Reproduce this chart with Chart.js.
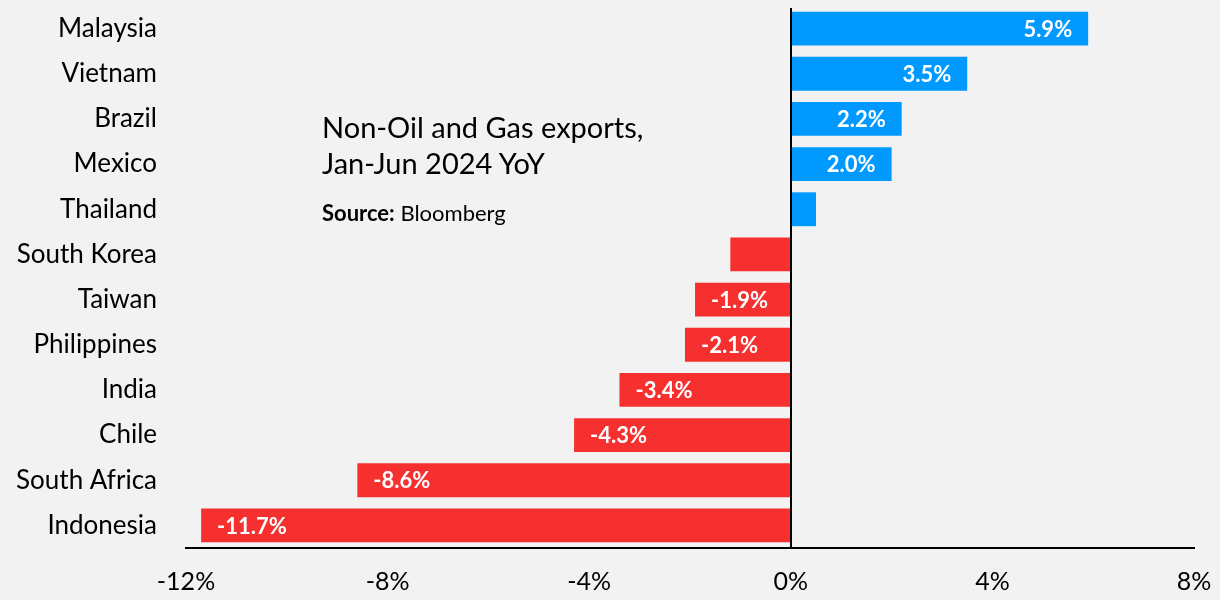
<!DOCTYPE html>
<html>
<head>
<meta charset="utf-8">
<script src="https://cdn.jsdelivr.net/npm/chart.js@4/dist/chart.umd.min.js"></script>
<style>
  body { margin: 0; background: #f2f2f2; }
  #wrap { position: relative; width: 1220px; height: 600px; }
  #note { position: absolute; left: 322px; top: 109px; font-family: Lato, sans-serif; color: #000; }
  #note .t { font-size: 29px; line-height: 36px; }
  #note .s { font-size: 22px; line-height: 26px; margin-top: 19px; }
</style>
</head>
<body>
<div id="wrap">
  <canvas id="mycanvas"></canvas>
  <div id="note">
    <div class="t">Non-Oil and Gas exports,<br>Jan-Jun 2024 YoY</div>
    <div class="s"><b>Source:</b> Bloomberg</div>
  </div>
</div>
<script>
var countries = ["Malaysia", "Vietnam", "Brazil", "Mexico", "Thailand", "South Korea",
                 "Taiwan", "Philippines", "India", "Chile", "South Africa", "Indonesia"];
var growth = [5.9, 3.5, 2.2, 2.0, 0.5, -1.2, -1.9, -2.1, -3.4, -4.3, -8.6, -11.7];
var barText = ["5.9%", "3.5%", "2.2%", "2.0%", "", "", "-1.9%", "-2.1%", "-3.4%", "-4.3%", "-8.6%", "-11.7%"];
var xTicks = [-12, -8, -4, 0, 4, 8];

var FONT = "Lato, sans-serif";

// labels inside the bar end + black zero line on top
var barLabels = {
	id: 'barLabels',
	afterDatasetsDraw: function(chart) {
		var c = chart.ctx;
		var meta = chart.getDatasetMeta(0);
		var xs = chart.scales.x;
		c.save();
		c.font = "bold 22px " + FONT;
		c.fillStyle = "#fff";
		c.textBaseline = "middle";
		meta.data.forEach(function(bar, i) {
			if (!barText[i]) return;
			if (growth[i] >= 0) {
				c.textAlign = "right";
				c.fillText(barText[i], bar.x - 16, bar.y + 1);
			} else {
				c.textAlign = "left";
				c.fillText(barText[i], bar.x + 16, bar.y + 1);
			}
		});
		var x0 = Math.round(xs.getPixelForValue(0));
		c.strokeStyle = "#000";
		c.lineWidth = 2;
		c.beginPath();
		c.moveTo(x0, chart.chartArea.top + 2);
		c.lineTo(x0, chart.chartArea.bottom);
		c.stroke();
		c.restore();
	}
};

var ctx = document.getElementById("mycanvas");
var chart = new Chart(ctx, {
	type: 'bar',
	data: {
		labels: countries,
		datasets: [{
			data: growth,
			backgroundColor: growth.map(function(v) { return v >= 0 ? '#0099ff' : '#f62f2f'; }),
			borderWidth: 0,
			categoryPercentage: 1,
			barPercentage: 0.75
		}]
	},
	options: {
		indexAxis: 'y',
		responsive: true,
		maintainAspectRatio: false,
		animation: false,
		layout: { padding: { top: 6, right: 26, bottom: 0, left: 0 } },
		plugins: {
			legend: { display: false },
			tooltip: { enabled: false }
		},
		scales: {
			x: {
				min: -12,
				max: 8,
				afterBuildTicks: function(scale) {
					scale.ticks = xTicks.map(function(v) { return { value: v }; });
				},
				afterFit: function(scale) {
					scale.height = 52;
					scale.paddingLeft = 0;
					scale.paddingRight = 0;
				},
				grid: { display: false, drawTicks: false },
				border: { display: true, color: '#000', width: 2 },
				ticks: {
					padding: 19,
					color: '#000',
					font: { family: FONT, size: 25 },
					maxRotation: 0,
					callback: function(v) { return v + '%'; }
				}
			},
			y: {
				afterFit: function(scale) {
					scale.width = 186;
					scale.paddingTop = 0;
					scale.paddingBottom = 0;
				},
				grid: { display: false, drawTicks: false },
				border: { display: false },
				ticks: {
					padding: 29,
					color: '#000',
					font: { family: FONT, size: 26 }
				}
			}
		}
	},
	plugins: [barLabels]
});
</script>
</body>
</html>
